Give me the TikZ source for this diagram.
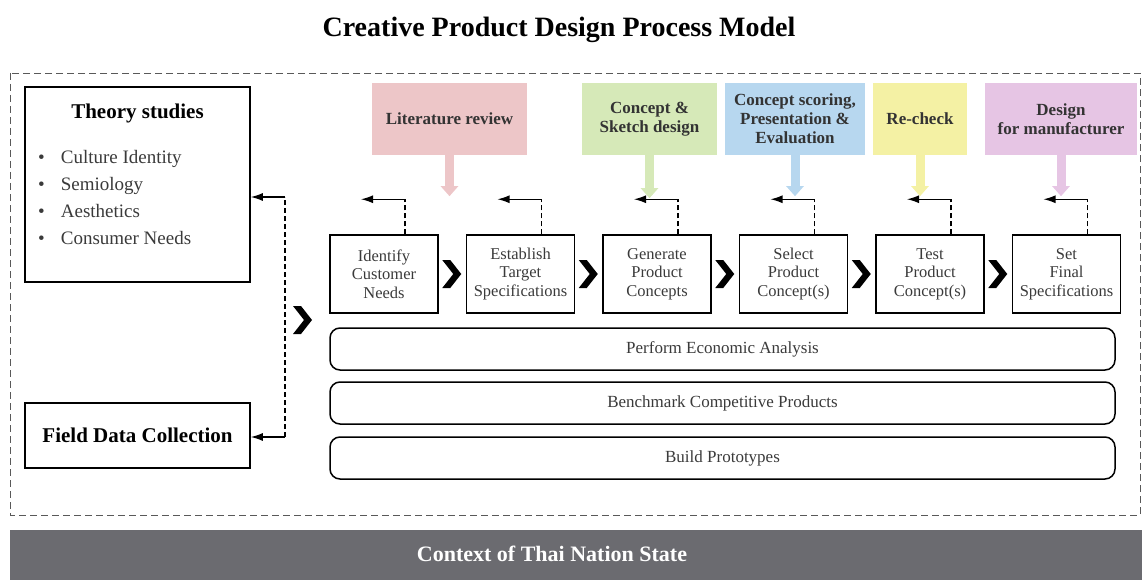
\documentclass[tikz,border=0pt]{standalone}
\usepackage{fontspec}
\setmainfont{Liberation Serif}
\usetikzlibrary{positioning,arrows.meta,calc}

\definecolor{litpink}{HTML}{EDC6C8}
\definecolor{sketchgreen}{HTML}{D6E9B8}
\definecolor{scoreblue}{HTML}{B7D7EF}
\definecolor{checkyellow}{HTML}{F4F1A4}
\definecolor{dfmpink}{HTML}{E6C5E4}
\definecolor{stategray}{HTML}{6B6B70}
\definecolor{textgray}{HTML}{3A3A3A}

\newcommand{\fsz}[2]{\fontsize{#1}{#2}\selectfont}
\newcommand{\chevronat}[1]{\fill (#1) ++(-10,-14) -- ++(8,0) -- ++(11,14) -- ++(-11,14) -- ++(-8,0) -- ++(11,-14) -- cycle;}

\tikzset{
  sidebox/.style = {draw, line width=1.5pt, minimum width=225pt, inner sep=0pt},
  stage/.style = {draw, line width=1.5pt, minimum width=108pt, minimum height=78pt,
    inner sep=0pt, align=center, text=textgray, font=\fsz{16.5}{18.5}},
  track/.style = {draw, line width=1.5pt, rounded corners=10pt, minimum width=785pt,
    minimum height=42pt, text=textgray, font=\fsz{17}{18}},
  inbox/.style = {minimum height=72pt, inner sep=2pt, align=center, font=\bfseries\fsz{17}{19}, text=black!80},
  inarrow/.style = {line width=9pt, draw=#1, -{Triangle[length=10pt,width=17pt]}},
  fbline/.style = {dash pattern=on 5pt off 3pt, line width=1.3pt},
  fbarrow/.style = {line width=1.3pt, -{Latex[length=12pt,width=8pt]}}
}

\begin{document}
\begin{tikzpicture}[x=1pt, y=-1pt]
\useasboundingbox (0,0) rectangle (1142,580);

\node (title) at (559,30) {\bfseries\fsz{28}{32}Creative Product Design Process Model};

% frame and context bar
\draw[dash pattern=on 7pt off 4pt, line width=0.9pt, draw=black!65] (10,73) rectangle (1140,515);
\fill[stategray] (10,530) rectangle (1142,580);
\node[text=white] (state) at (552,554) {\bfseries\fsz{22}{24}Context of Thai Nation State};

% left side
\node[sidebox, minimum height=195pt] (theory) at (137.5,184.5) {};
\node (theorytitle) at (137.5,113) {\bfseries\fsz{21}{24}Theory studies};
\node[anchor=north west, align=left, text=textgray, inner sep=0pt, font=\fsz{19}{27}] (theorylist) at (38,150)
  {\textbullet\hspace{16pt}Culture Identity\\
   \textbullet\hspace{16pt}Semiology\\
   \textbullet\hspace{16pt}Aesthetics\\
   \textbullet\hspace{16pt}Consumer Needs};
\node[sidebox, minimum height=65pt, font=\bfseries\fsz{21}{24}] (field) at (137.5,435.5) {Field Data Collection};

\coordinate (lt) at (285,197);
\coordinate (lb) at (285,437);
\draw[fbline] (lb) -- (lt);
\draw[fbarrow] (lt) -- (theory.east |- lt);
\draw[fbarrow] (lb) -- (field.east |- lb);
\chevronat{303,320}

% development stages
\node[stage] (p1) at (384,274) {Identify\\Customer\\Needs};
\node[stage, right=27pt of p1] (p2) {Establish\\Target\\Specifications};
\node[stage, right=27pt of p2] (p3) {Generate\\Product\\Concepts};
\node[stage, right=27pt of p3] (p4) {Select\\Product\\Concept(s)};
\node[stage, right=27pt of p4] (p5) {Test\\Product\\Concept(s)};
\node[stage, right=27pt of p5] (p6) {Set\\Final\\Specifications};

\chevronat{$(p1.east)!0.5!(p2.west)$}
\chevronat{$(p2.east)!0.5!(p3.west)$}
\chevronat{$(p3.east)!0.5!(p4.west)$}
\chevronat{$(p4.east)!0.5!(p5.west)$}
\chevronat{$(p5.east)!0.5!(p6.west)$}

\foreach \i in {1,...,6} {
  \draw[fbline] ([xshift=21pt]p\i.north) -- ++(0,-35) coordinate (b\i);
  \draw[fbarrow] (b\i) -- ++(-44,0);
}

% parallel activities
\node[track] (econ) at (722.5,349) {Perform Economic Analysis};
\node[track] (bench) at (722.5,403) {Benchmark Competitive Products};
\node[track] (proto) at (722.5,458) {Build Prototypes};

% inputs
\node[inbox, fill=litpink, minimum width=155pt] (lit) at (449.5,119) {Literature review};
\node[inbox, fill=sketchgreen, minimum width=135pt] (sketch) at (649.5,119) {Concept \&\\Sketch design};
\node[inbox, fill=scoreblue, minimum width=140pt] (score) at (795,119) {Concept scoring,\\Presentation \&\\Evaluation};
\node[inbox, fill=checkyellow, minimum width=94pt] (recheck) at (920,119) {Re-check};
\node[inbox, fill=dfmpink, minimum width=152pt] (dfm) at (1061,119) {Design\\for manufacturer};

\draw[inarrow=litpink] (lit.south) -- ++(0,41);
\draw[inarrow=sketchgreen] (sketch.south) -- ++(0,43);
\draw[inarrow=scoreblue] (score.south) -- ++(0,41);
\draw[inarrow=checkyellow] (recheck.south) -- ++(0,41);
\draw[inarrow=dfmpink] (dfm.south) -- ++(0,41);

\end{tikzpicture}
\end{document}
